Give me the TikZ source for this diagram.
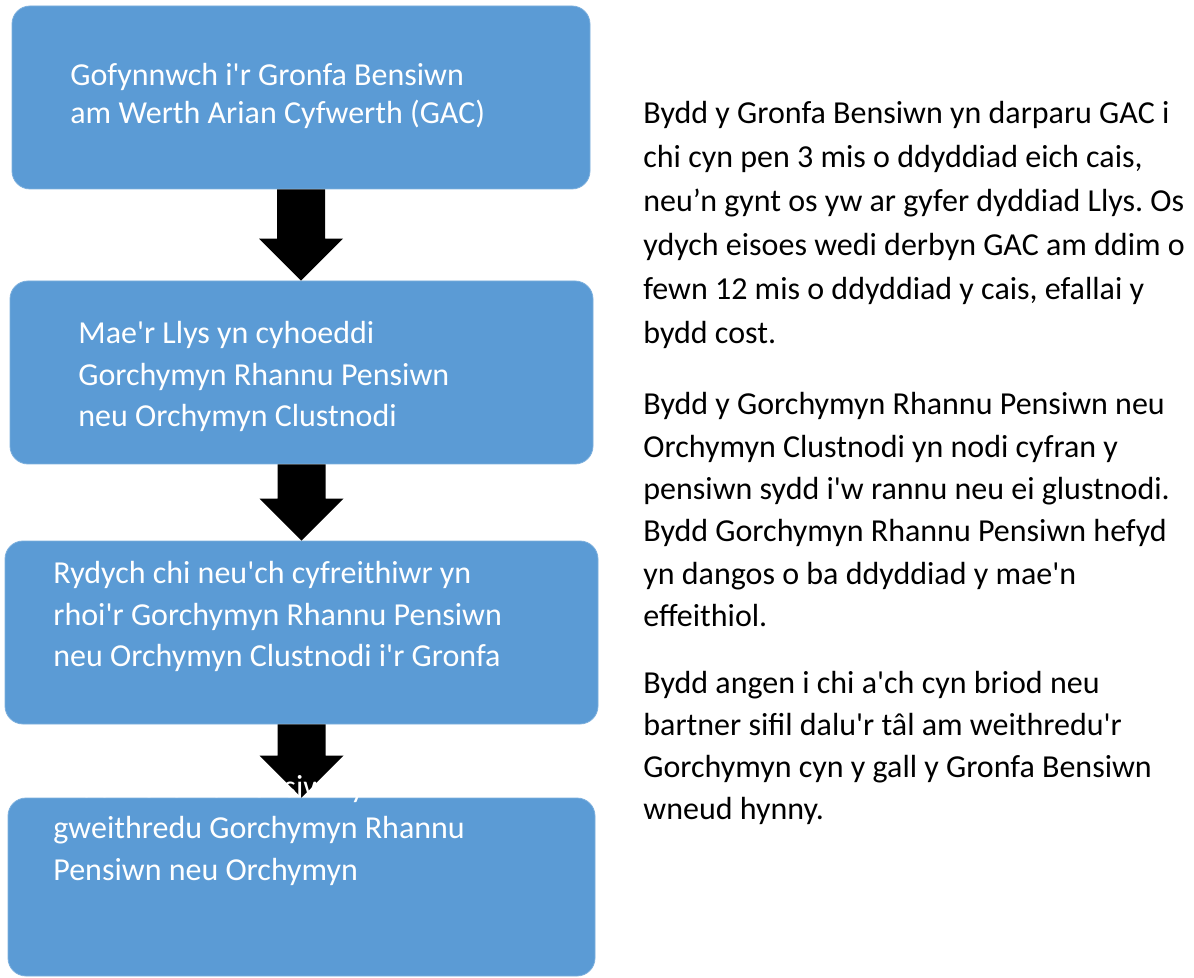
\documentclass[tikz,border=0pt]{standalone}
\usepackage{fontspec}
\setmainfont{Carlito}[Ligatures=TeXOff]
\usepackage{tikz}
\usetikzlibrary{calc}

\definecolor{stepblue}{HTML}{5B9BD5}

\tikzset{
    stepbox/.style={shape=rectangle, rounded corners=9pt, fill=stepblue, draw=stepblue!80!white, line width=0.4pt},
    boxtext/.style={anchor=north west, inner sep=0pt, align=left, text=white},
    sidetext/.style={anchor=north west, inner sep=0pt, align=left, text=black}
}

% block arrow from the bottom of one box to the top of the next
\newcommand{\blockarrow}[2]{%
    \fill[black] let \p1=(#1), \p2=(#2) in
        (\x1-12pt,\y1) -- (\x1+12pt,\y1) -- (\x1+12pt,\y2+21pt) -- (\x1+21pt,\y2+21pt)
        -- (\x1,\y2) -- (\x1-21pt,\y2+21pt) -- (\x1-12pt,\y2+21pt) -- cycle;
}

\frenchspacing

\begin{document}
\begin{tikzpicture}[x=0.5pt, y=-0.5pt]
    \useasboundingbox (0,0) rectangle (1194,978);

    \node[stepbox, minimum width=289pt, minimum height=91.5pt] (S1) at (301,97.5) {};
    \node[stepbox, minimum width=291.5pt, minimum height=91.5pt] (S2) at (301.5,372.5) {};
    \node[stepbox, minimum width=296.5pt, minimum height=91.5pt] (S3) at (301.5,632.5) {};
    \node[stepbox, minimum width=293.5pt, minimum height=89pt] (S4) at (301.5,887) {};

    \blockarrow{S1.south}{S2.north}
    \blockarrow{S2.south}{S3.north}
    \blockarrow{S3.south}{S4.north}

    \node[boxtext, font=\fontsize{16}{19}\selectfont] (T1) at (70,63)
        {Gofynnwch i'r Gronfa Bensiwn\\am Werth Arian Cyfwerth (GAC)};
    \node[boxtext, font=\fontsize{16}{20.75}\selectfont] (T2) at (78,321)
        {Mae'r Llys yn cyhoeddi\\Gorchymyn Rhannu Pensiwn\\neu Orchymyn Clustnodi};
    \node[boxtext, font=\fontsize{16}{20.75}\selectfont] (T3) at (53,561)
        {Rydych chi neu'ch cyfreithiwr yn\\rhoi'r Gorchymyn Rhannu Pensiwn\\neu Orchymyn Clustnodi i'r Gronfa};
    \node[boxtext, font=\fontsize{16}{20.75}\selectfont] (T4) at (53,775)
        {Mae'r Gronfa Bensiwn yn\\gweithredu Gorchymyn Rhannu\\Pensiwn neu Orchymyn};

    \node[sidetext, font=\fontsize{16}{22}\selectfont] (P1) at (643,101)
        {Bydd y Gronfa Bensiwn yn darparu GAC i\\chi cyn pen 3 mis o ddyddiad eich cais,\\neu’n gynt os yw ar gyfer dyddiad Llys. Os\\ydych eisoes wedi derbyn GAC am ddim o\\fewn 12 mis o ddyddiad y cais, efallai y\\bydd cost.};
    \node[sidetext, font=\fontsize{16}{21.2}\selectfont] (P2) at (643,392)
        {Bydd y Gorchymyn Rhannu Pensiwn neu\\Orchymyn Clustnodi yn nodi cyfran y\\pensiwn sydd i'w rannu neu ei glustnodi.\\Bydd Gorchymyn Rhannu Pensiwn hefyd\\yn dangos o ba ddyddiad y mae'n\\effeithiol.};
    \node[sidetext, font=\fontsize{16}{21}\selectfont] (P3) at (643,671)
        {Bydd angen i chi a'ch cyn briod neu\\bartner sifil dalu'r tâl am weithredu'r\\Gorchymyn cyn y gall y Gronfa Bensiwn\\wneud hynny.};
\end{tikzpicture}
\end{document}
